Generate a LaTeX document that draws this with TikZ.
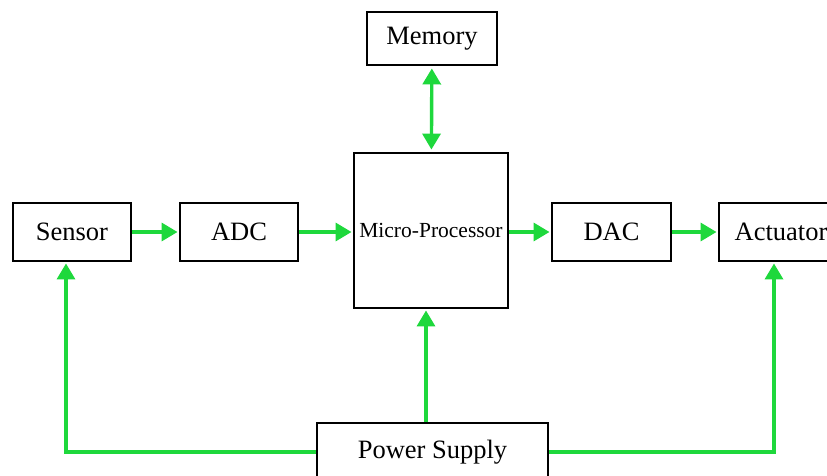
\documentclass[tikz,border=0pt]{standalone}
\usepackage{fontspec}
\setmainfont{Liberation Serif}
\usepackage{tikz}
\usetikzlibrary{arrows.meta,positioning,calc}
\definecolor{flowgreen}{HTML}{1ED83C}

\begin{document}
\begin{tikzpicture}[x=1pt, y=-1pt,
    block/.style={draw=black, line width=2.9pt, fill=white, inner sep=0pt,
      minimum width=118pt, minimum height=58pt,
      font=\fontsize{26.5}{30}\selectfont},
    flow/.style={draw=flowgreen, line width=3.4pt,
      -{Triangle[length=16pt,width=18pt]}, shorten >=1pt}]
    \clip (0,0) rectangle (827,475);
    \fill[white] (0,0) rectangle (827,475);

    % the blocks
    \node[block] (sensor) at (72,232) {Sensor};
    \node[block] (adc) at (239,232) {ADC};
    \node[block, minimum width=154pt, minimum height=155pt,
      font=\fontsize{21.5}{24}\selectfont] (micro) at (431,230.5) {Micro-Processor};
    \node[block, minimum width=119pt] (dac) at (611.5,232) {DAC};
    \node[block, minimum width=124pt] (actuator) at (781,232) {Actuator};
    \node[block, minimum width=130pt, minimum height=53pt] (memory) at (432,38.5) {Memory};
    \node[block, minimum width=231pt] (power) at (432.5,452) {Power Supply};

    % signal path
    \draw[flow] (sensor) -- (adc);
    \draw[flow] (adc) -- (micro.west |- adc);
    \draw[flow] (micro.east |- dac) -- (dac);
    \draw[flow] (dac) -- (actuator);
    \draw[flow, {Triangle[length=16pt,width=18pt]}-{Triangle[length=16pt,width=18pt]},
      shorten <=2pt, shorten >=2pt] (memory) -- (micro);

    % power lines
    \coordinate (feed) at ([xshift=-6.5pt]power.north);
    \draw[flow] (feed) -- (feed |- micro.south);
    \draw[flow] (power.west) -| ([xshift=-6pt]sensor.south);
    \draw[flow] (power.east) -| ([xshift=-7pt]actuator.south);
\end{tikzpicture}
\end{document}
